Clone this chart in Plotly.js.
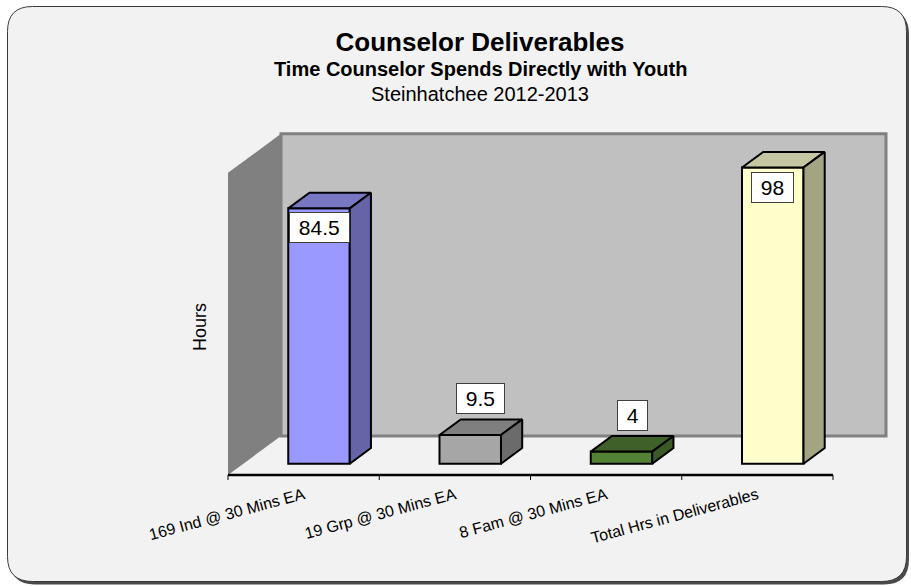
<!DOCTYPE html>
<html><head><meta charset="utf-8">
<script src="https://cdn.plot.ly/plotly-3.0.1.min.js"></script>
<style>html,body{margin:0;padding:0;background:#fff;} #chart{width:911px;height:586px;}</style>
</head><body><div id="chart"></div>
<script>
// ---- data ----
const categories = ['169 Ind @ 30 Mins EA', '19 Grp @ 30 Mins EA', '8 Fam @ 30 Mins EA', 'Total Hrs in Deliverables'];
const hours = [84.5, 9.5, 4, 98];
const frontColors = ['#9999FF', '#A6A6A6', '#548235', '#FFFFCC'];
const topColors = ['#7777C2', '#7F7F7F', '#3F6129', '#C6C6A2'];
const sideColors = ['#6464A6', '#6B6B6B', '#3A5925', '#A4A483'];
const titleText = 'Counselor Deliverables';
const subtitleText = 'Time Counselor Spends Directly with Youth';
const subtitle2Text = 'Steinhatchee 2012-2013';
const yTitle = 'Hours';
const wallMax = 100;

// ---- geometry ----
const FONT = 'Liberation Sans, Arial, sans-serif';
const W = 911, H = 586, ml = 225, mr = 21, mt = 130, mb = 104;
const pw = W - ml - mr, ph = H - mt - mb;
const catPx = 151.25, valPx = 3.022;
const originX = 228, originY = 475;
const xr0 = -0.5 - (originX - ml) / catPx, xr1 = xr0 + pw / catPx;
const yr0 = -(H - mb - originY) / valPx, yr1 = yr0 + ph / valPx;
const depthX = 53 / catPx, depthY = 39 / valPx;
const barFront = 0.29, barDepth = 0.40, barWidth = 61.5 / catPx;
const fx = barFront * depthX, fy = barFront * depthY;
const bdx = barDepth * depthX, bdy = barDepth * depthY;
const n = categories.length;
const idx = categories.map((_, i) => i);

const PX = px => (px - ml) / pw;
const PY = py => (H - mb - py) / ph;

function roundRect(x0, y0, x1, y1, r) {
  const p = (a, b) => PX(a) + ',' + PY(b);
  return 'M' + p(x0 + r, y0) + ' L' + p(x1 - r, y0) + ' Q' + p(x1, y0) + ' ' + p(x1, y0 + r) +
    ' L' + p(x1, y1 - r) + ' Q' + p(x1, y1) + ' ' + p(x1 - r, y1) +
    ' L' + p(x0 + r, y1) + ' Q' + p(x0, y1) + ' ' + p(x0, y1 - r) +
    ' L' + p(x0, y0 + r) + ' Q' + p(x0, y0) + ' ' + p(x0 + r, y0) + ' Z';
}

// ---- traces ----
const traces = [];
hours.forEach((v, i) => {
  const xl = i + fx - barWidth / 2, xr = i + fx + barWidth / 2, b = fy, t = fy + v;
  traces.push({
    type: 'scatter', mode: 'lines', x: [xl, xr, xr + bdx, xl + bdx, xl], y: [t, t, t + bdy, t + bdy, t],
    fill: 'toself', fillcolor: topColors[i], line: { color: '#000', width: 2 }, hoverinfo: 'skip', showlegend: false
  });
  traces.push({
    type: 'scatter', mode: 'lines', x: [xr, xr + bdx, xr + bdx, xr, xr], y: [b, b + bdy, t + bdy, t, b],
    fill: 'toself', fillcolor: sideColors[i], line: { color: '#000', width: 2 }, hoverinfo: 'skip', showlegend: false
  });
});
traces.push({
  type: 'bar', x: idx.map(i => i + fx), y: hours, base: fy, width: barWidth,
  marker: { color: frontColors, line: { color: '#000', width: 2 } }, showlegend: false, hoverinfo: 'y'
});

// ---- shapes ----
const shapes = [];
shapes.push({ type: 'path', xref: 'paper', yref: 'paper', layer: 'below', path: roundRect(10, 9.5, 909, 584.5, 25), fillcolor: '#4a4a4a', line: { width: 0 } });
shapes.push({ type: 'path', xref: 'paper', yref: 'paper', layer: 'below', path: roundRect(7.5, 6.5, 906.5, 581.5, 25), fillcolor: '#F2F2F2', line: { color: '#3a3a3a', width: 1 } });
// left wall
shapes.push({ type: 'path', xref: 'x', yref: 'y', layer: 'below',
  path: 'M' + (-0.5) + ',0 L' + (-0.5) + ',' + wallMax + ' L' + (-0.5 + depthX) + ',' + (wallMax + depthY) + ' L' + (-0.5 + depthX) + ',' + depthY + ' Z',
  fillcolor: '#808080', line: { width: 0 } });
// back wall
shapes.push({ type: 'rect', xref: 'x', yref: 'y', layer: 'below', x0: -0.5 + depthX, x1: n - 0.5 + depthX, y0: depthY, y1: wallMax + depthY,
  fillcolor: '#C0C0C0', line: { color: '#808080', width: 3 } });
// axis line + ticks
shapes.push({ type: 'line', xref: 'x', yref: 'y', x0: -0.5, x1: n - 0.5, y0: 0, y1: 0, line: { color: '#000', width: 2.5 } });
for (let i = 0; i <= n; i++) {
  shapes.push({ type: 'line', xref: 'x', yref: 'y', ysizemode: 'pixel', yanchor: 0, x0: i - 0.5, x1: i - 0.5, y0: 0, y1: -5, line: { color: '#000', width: 1 } });
}

// ---- annotations ----
const annotations = [];
const maxV = Math.max(...hours);
hours.forEach((v, i) => {
  const inside = v > maxV / 2;
  annotations.push({
    xref: 'x', yref: 'y', x: inside ? i + fx : i + fx + bdx / 2, y: inside ? fy + v : fy + v + bdy / 2,
    text: '\u00A0' + v + '\u00A0', showarrow: false, xanchor: 'center', yanchor: inside ? 'top' : 'bottom',
    yshift: inside ? -4 : 13, bgcolor: '#FFFFFF', bordercolor: '#404040', borderwidth: 1, borderpad: 3,
    font: { family: FONT, size: 21, color: '#000' }
  });
});
annotations.push({ xref: 'paper', yref: 'paper', x: PX(480), y: PY(69), text: '<b>' + subtitleText + '</b>', showarrow: false,
  xanchor: 'center', yanchor: 'middle', font: { family: FONT, size: 20, color: '#000' } });
annotations.push({ xref: 'paper', yref: 'paper', x: PX(480), y: PY(94), text: subtitle2Text, showarrow: false,
  xanchor: 'center', yanchor: 'middle', font: { family: FONT, size: 20, color: '#000' } });
annotations.push({ xref: 'paper', yref: 'paper', x: PX(200), y: PY(327), text: yTitle, textangle: -90, showarrow: false,
  xanchor: 'center', yanchor: 'middle', font: { family: FONT, size: 18, color: '#000' } });

const layout = {
  width: W, height: H,
  margin: { l: ml, r: mr, t: mt, b: mb, autoexpand: false },
  paper_bgcolor: '#FFFFFF', plot_bgcolor: 'rgba(0,0,0,0)',
  font: { family: FONT, color: '#000' },
  title: { text: '<b>' + titleText + '</b>', font: { family: FONT, size: 26, color: '#000' },
    xref: 'container', yref: 'container', x: 480 / W, xanchor: 'center', y: 1 - 41.5 / H, yanchor: 'middle' },
  xaxis: { range: [xr0, xr1], tickvals: idx, ticktext: categories, tickangle: -15, ticks: '',
    showline: false, showgrid: false, zeroline: false, tickfont: { family: FONT, size: 16, color: '#000' }, fixedrange: true },
  yaxis: { range: [yr0, yr1], showticklabels: false, showgrid: false, zeroline: false, showline: false, ticks: '', fixedrange: true },
  shapes: shapes, annotations: annotations, showlegend: false, bargap: 0
};

Plotly.newPlot('chart', traces, layout, { displayModeBar: false, staticPlot: true });
</script>
</body></html>
